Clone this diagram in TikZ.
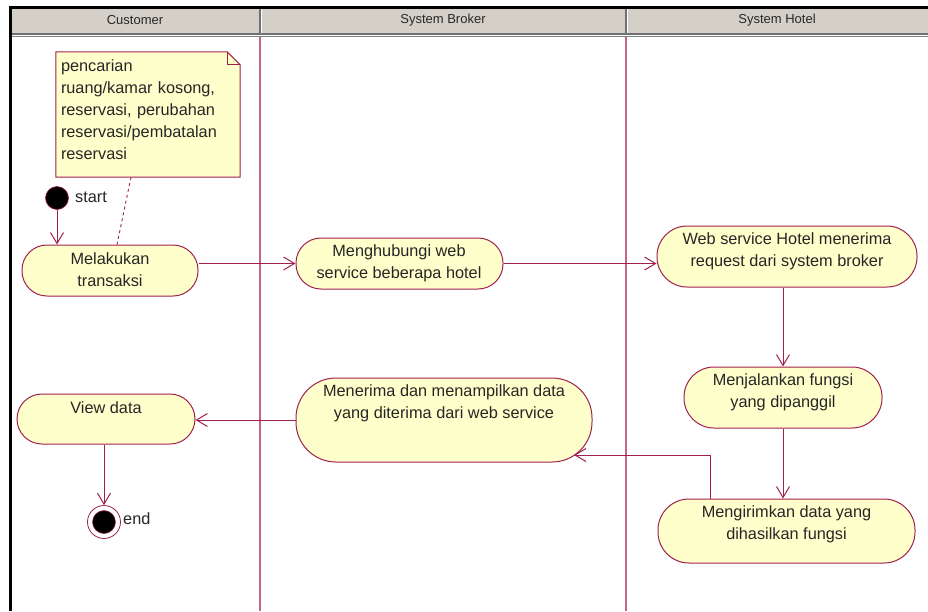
\documentclass[tikz,border=0pt]{standalone}
\usepackage{fontspec}
\setmainfont{Liberation Sans}
\usetikzlibrary{arrows.meta}
\definecolor{umlline}{HTML}{A0204F}
\definecolor{lanecol}{HTML}{C8648C}
\definecolor{umlfill}{HTML}{FFFFCC}
\definecolor{hdrfill}{HTML}{D4D0C8}
\definecolor{hdrdark}{HTML}{707070}
\begin{document}
\begin{tikzpicture}[x=1pt,y=-1pt,
  act/.style={draw=umlline, fill=umlfill, line width=1pt, rounded corners=25pt, inner sep=0pt},
  txt/.style={font=\fontsize{16.3}{22}\selectfont, align=center, inner sep=0pt, text=black!85},
  flow/.style={draw=umlline, line width=1pt, -{Straight Barb[length=11pt,width=13pt]}},
  hdr/.style={font=\fontsize{13}{15}\selectfont, inner sep=0pt, text=black!85},
  lane/.style={draw=lanecol, line width=1.2pt}
]
\useasboundingbox (0,0) rectangle (928,611);
\fill[white] (0,0) rectangle (928,611);

% header band
\fill[hdrfill] (10,8) rectangle (928,33);
\draw[hdrdark, line width=2pt] (12,33.5) -- (928,33.5);
\draw[gray, line width=1pt] (12,36) -- (928,36);
\draw[hdrdark, line width=1.2pt] (260,8) -- (260,35);
\draw[white, line width=1pt] (261.6,8) -- (261.6,33);
\draw[hdrdark, line width=1.2pt] (626,8) -- (626,35);
\draw[white, line width=1pt] (627.6,8) -- (627.6,33);
\draw[black, line width=2.5pt] (10.5,611) -- (10.5,7.5) -- (928,7.5);

\node[hdr] (h-cust) at (135,20) {Customer};
\node[hdr] (h-broker) at (443,20) {System Broker};
\node[hdr] (h-hotel) at (777,20) {System Hotel};

% swimlane lines
\draw[lane] (260,37) -- (260,611);
\draw[lane] (626,37) -- (626,611);

% note
\node[inner sep=0pt, minimum width=184pt, minimum height=125pt] (note) at (148,114.5) {};
\filldraw[draw=umlline, fill=umlfill, line width=1pt]
  (note.north west) -- ([xshift=-13pt]note.north east) -- ([yshift=-13pt]note.north east)
  -- (note.south east) -- (note.south west) -- cycle;
\draw[umlline, line width=0.8pt] ([xshift=-13pt]note.north east) |- ([yshift=-13pt]note.north east);
\node[txt, align=left, text width=174pt] (t-note) at (148,110)
  {pencarian\\ruang/kamar kosong,\\reservasi, perubahan\\reservasi/pembatalan\\reservasi};

% start
\node[circle, fill=black, draw=umlline, line width=0.6pt, minimum size=23pt, inner sep=0pt] (start) at (57,198) {};
\node[txt, anchor=west] (l-start) at (75,197) {start};

% activities
\node[act, minimum width=176pt, minimum height=51pt] (melakukan) at (110,270.5) {};
\node[txt] (t-melakukan) at (110,269.5) {Melakukan\\transaksi};

\node[act, minimum width=207pt, minimum height=51pt] (menghubungi) at (399.5,263.5) {};
\node[txt] (t-menghubungi) at (399,263) {Menghubungi web\\service beberapa hotel};

\node[act, rounded corners=30pt, minimum width=260pt, minimum height=61pt] (webservice) at (787,256.5) {};
\node[txt] (t-webservice) at (787,251.5) {Web service Hotel menerima\\request dari system broker};

\node[act, rounded corners=30pt, minimum width=198pt, minimum height=61pt] (menjalankan) at (783,397.5) {};
\node[txt] (t-menjalankan) at (783,392) {Menjalankan fungsi\\yang dipanggil};

\node[act, rounded corners=31pt, minimum width=257pt, minimum height=64pt] (mengirimkan) at (786.5,531) {};
\node[txt] (t-mengirimkan) at (786.5,524) {Mengirimkan data yang\\dihasilkan fungsi};

\node[act, rounded corners=40pt, minimum width=296pt, minimum height=84pt] (menerima) at (444,420) {};
\node[txt] (t-menerima) at (444,403) {Menerima dan menampilkan data\\yang diterima dari web service};

\node[act, minimum width=178pt, minimum height=50pt] (viewdata) at (106,419) {};
\node[txt] (t-viewdata) at (106,408) {View data};

% end
\node[circle, fill=white, draw=umlline, line width=0.8pt, minimum size=33pt, inner sep=0pt] (endnode) at (104,522) {};
\node[circle, fill=black, draw=umlline, line width=0.5pt, minimum size=23pt, inner sep=0pt] (endcore) at (endnode) {};
\node[txt, anchor=west] (l-end) at (123,519) {end};

% connectors
\coordinate (bend) at (710,455);
\coordinate (menerima-in) at (574,455);

\draw[flow] (start) -- (melakukan.north -| start);
\draw[umlline, line width=0.9pt, dash pattern=on 3pt off 3pt] ([xshift=-17pt]note.south) -- ([xshift=7pt]melakukan.north);
\draw[flow] (melakukan.east |- menghubungi.west) -- (menghubungi.west);
\draw[flow] (menghubungi.east) -- (menghubungi.east -| webservice.west);
\draw[flow] (webservice.south -| menjalankan.north) -- (menjalankan.north);
\draw[flow] (menjalankan.south) -- (menjalankan.south |- mengirimkan.north);
\draw[flow] (bend |- mengirimkan.north) -- (bend) -- (menerima-in);
\draw[flow] (menerima.west) -- (menerima.west -| viewdata.east);
\draw[flow] (viewdata.south -| endnode.north) -- (endnode.north);
\end{tikzpicture}
\end{document}
